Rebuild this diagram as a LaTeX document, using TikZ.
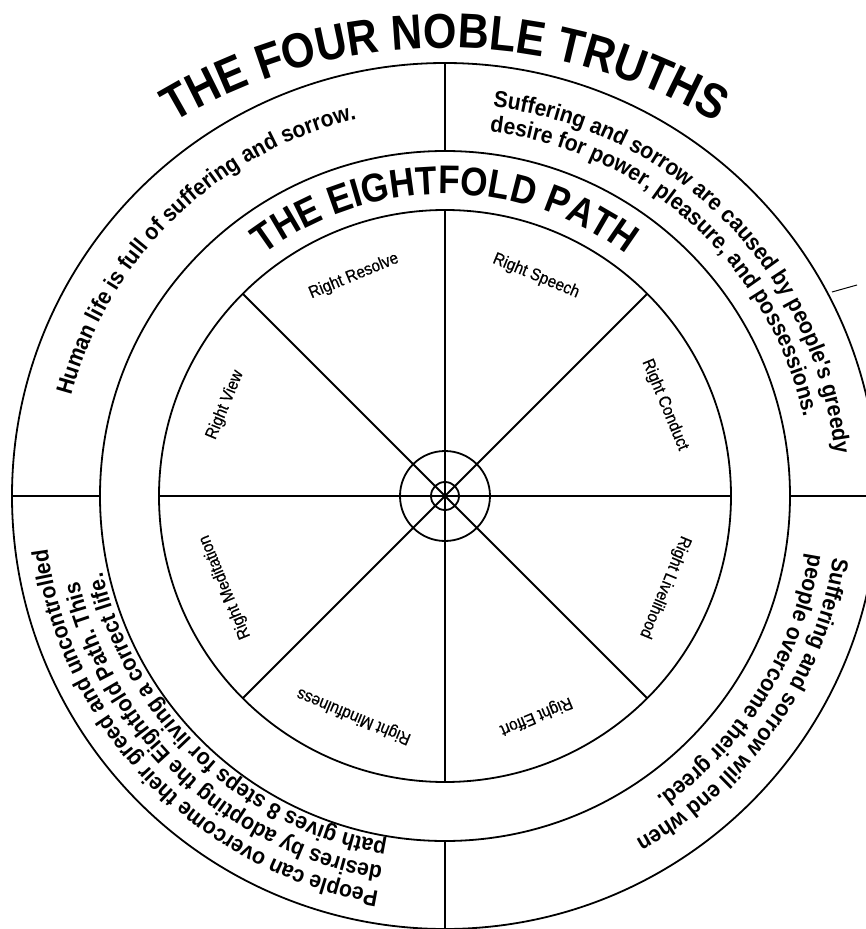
\documentclass[tikz,border=0pt]{standalone}
\usepackage{fontspec}
\usepackage{tikz}
\usetikzlibrary{decorations.text}
\newfontfamily\wheelfont{Liberation Sans}[FakeStretch=0.88]
\newfontfamily\truthfamily{Liberation Sans}[FakeStretch=0.92]
\newfontfamily\stepfamily{Liberation Sans}[FakeStretch=0.9, FakeBold=0.6]
\newcommand{\titlefont}{\wheelfont\bfseries\fontsize{49}{49}\selectfont}
\newcommand{\pathfont}{\wheelfont\bfseries\fontsize{40}{40}\selectfont}
\newcommand{\truthfont}{\truthfamily\bfseries\fontsize{23}{23}\selectfont}
\newcommand{\stepfont}{\stepfamily\fontsize{17}{17}\selectfont}

\begin{document}
\begin{tikzpicture}[x=1pt, y=1pt, line width=1.8pt,
    along/.style={decorate, decoration={text along path, text align=left, text={#1}}},
    centred/.style={decorate, decoration={text along path, text align=center, text={#1}}},
    fold label/.style={font=\stepfont, inner sep=0pt}]
    \useasboundingbox (-445,-433) rectangle (421,496);

    % rings and hub
    \draw (0,0) circle[radius=433];
    \draw (0,0) circle[radius=345];
    \draw (0,0) circle[radius=286];
    \draw (0,0) circle[radius=45];
    \draw (0,0) circle[radius=14];

    % the four truths
    \foreach \a in {0,90,180,270}
        \draw (\a:345) -- (\a:433);
    % the eight spokes
    \foreach \a in {0,45,...,315}
        \draw (0,0) -- (\a:286);

    % titles
    \path[centred={|\titlefont|THE FOUR NOBLE TRUTHS}] ([shift={(0,-80)}]180:528) arc[start angle=180, end angle=0, radius=528];
    \path[centred={|\pathfont|THE EIGHTFOLD PATH}] (180:302) arc[start angle=180, end angle=0, radius=302];

    % truths
    \path[along={|\truthfont|Human life is full of suffering and sorrow.}] (165:387) arc[start angle=165, end angle=90, radius=387];
    \path[along={|\truthfont|Suffering and sorrow are caused by people's greedy}] (83:392) arc[start angle=83, end angle=-8, radius=392];
    \path[along={|\truthfont|desire for power, pleasure, and possessions.}] (83:367) arc[start angle=83, end angle=-8, radius=367];
    \path[along={|\truthfont|Suffering and sorrow will end when}] (-9:393) arc[start angle=-9, end angle=-95, radius=393];
    \path[along={|\truthfont|people overcome their greed.}] (-9:368) arc[start angle=-9, end angle=-95, radius=368];
    \path[along={|\truthfont|People can overcome their greed and uncontrolled}] (-99.5:401) arc[start angle=-99.5, end angle=-190, radius=401];
    \path[along={|\truthfont|desires by adopting the Eightfold Path. This}] (-99.5:376) arc[start angle=-99.5, end angle=-190, radius=376];
    \path[along={|\truthfont|path gives 8 steps for living a correct life.}] (-99.5:351) arc[start angle=-99.5, end angle=-190, radius=351];

    % the eight steps
    \foreach \a/\name/\txt in {112.5/resolve/Right Resolve, 67.5/speech/Right Speech,
        22.5/conduct/Right Conduct, -22.5/livelihood/Right Livelihood,
        -67.5/effort/Right Effort, -112.5/mindfulness/Right Mindfulness,
        -157.5/meditation/Right Meditation, 157.5/view/Right View}
        \node[fold label, rotate=\a-90] (\name) at (\a:238) {\txt};

    % stray pen mark
    \draw[line width=1pt] (387,204) -- (412,211);
\end{tikzpicture}
\end{document}
